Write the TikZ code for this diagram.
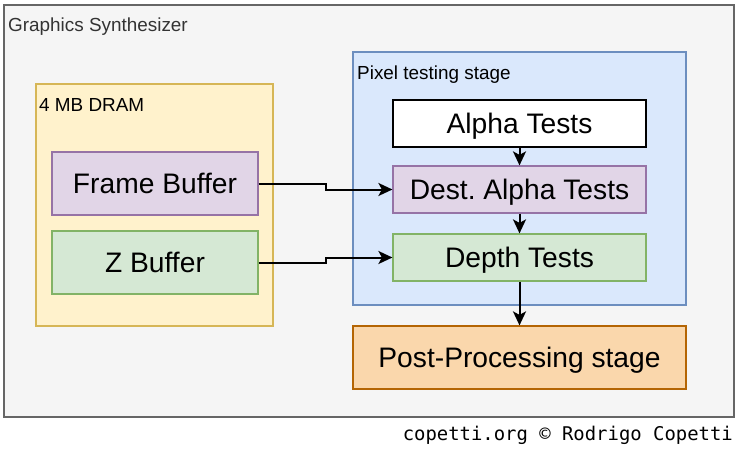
\documentclass[tikz,border=0pt]{standalone}
\usepackage{fontspec}
\setmainfont{Liberation Sans}
\newfontfamily\footfont{DejaVu Sans Mono}
\usepackage{xcolor}
\usetikzlibrary{arrows.meta,positioning}

\definecolor{gsfill}{HTML}{F5F5F5}
\definecolor{gsline}{HTML}{666666}
\definecolor{gstext}{HTML}{333333}
\definecolor{dramfill}{HTML}{FFF2CC}
\definecolor{dramline}{HTML}{D6B656}
\definecolor{pixfill}{HTML}{DAE8FC}
\definecolor{pixline}{HTML}{6C8EBF}
\definecolor{purfill}{HTML}{E1D5E7}
\definecolor{purline}{HTML}{9673A6}
\definecolor{grnfill}{HTML}{D5E8D4}
\definecolor{grnline}{HTML}{82B366}
\definecolor{orgfill}{HTML}{FAD7AC}
\definecolor{orgline}{HTML}{B46504}

\tikzset{
    bigbox/.style={
        draw,
        line width=1.2pt,
        inner sep=0pt,
        text height=20.2pt,
        text depth=0pt,
        font=\fontsize{28.2}{33}\selectfont
    },
    smalltext/.style={
        inner sep=0pt,
        anchor=base west,
        font=\fontsize{18.9}{22}\selectfont
    },
    flowarrow/.style={
        draw=black,
        line width=2pt,
        arrows={-Stealth[length=14pt,width=13pt,inset=3.5pt]}
    }
}

\begin{document}
\begin{tikzpicture}[x=1pt,y=-1pt]
    \useasboundingbox (0,0) rectangle (738,449);

    % outer block
    \draw[line width=1.2pt, draw=gsline, fill=gsfill] (4,5) rectangle (734,417);
    \node[smalltext, text=gstext] (gslabel) at (8,32) {Graphics Synthesizer};

    % memory
    \draw[line width=1.2pt, draw=dramline, fill=dramfill] (36,84) rectangle (273,326);
    \node[smalltext] (dramlabel) at (39,111.5) {4 MB DRAM};

    \node[bigbox, draw=purline, fill=purfill, minimum width=206pt, minimum height=63pt]
        (fb) at (155,183.5) {Frame Buffer};
    \node[bigbox, draw=grnline, fill=grnfill, minimum width=206pt, minimum height=63pt]
        (zb) at (155,262.5) {Z Buffer};

    % pixel testing
    \draw[line width=1.2pt, draw=pixline, fill=pixfill] (353,52) rectangle (686,305);
    \node[smalltext] (pixlabel) at (357,80) {Pixel testing stage};

    \node[bigbox, draw=black, fill=white, minimum width=253pt, minimum height=47pt]
        (alpha) at (519.5,123.5) {Alpha Tests};
    \node[bigbox, draw=purline, fill=purfill, minimum width=253pt, minimum height=47pt]
        (dest) at (519.5,189.5) {Dest.\ Alpha Tests};
    \node[bigbox, draw=grnline, fill=grnfill, minimum width=253pt, minimum height=47pt]
        (depth) at (519.5,257.5) {Depth Tests};

    \node[bigbox, draw=orgline, fill=orgfill, minimum width=333pt, minimum height=63pt]
        (post) at (519.5,357.5) {Post-Processing stage};

    % connections
    \draw[flowarrow] (fb.east) -- ++(67,0) |- (dest.west);
    \draw[flowarrow] (zb.east) -- ++(67,0) |- (depth.west);
    \draw[flowarrow] (alpha) -- (dest);
    \draw[flowarrow] (dest) -- (depth);
    \draw[flowarrow] (depth) -- (post);

    \node[anchor=base east, inner sep=0pt, font=\footfont\fontsize{18.9}{22}\selectfont]
        (credit) at (733,440) {copetti.org © Rodrigo Copetti};
\end{tikzpicture}
\end{document}
